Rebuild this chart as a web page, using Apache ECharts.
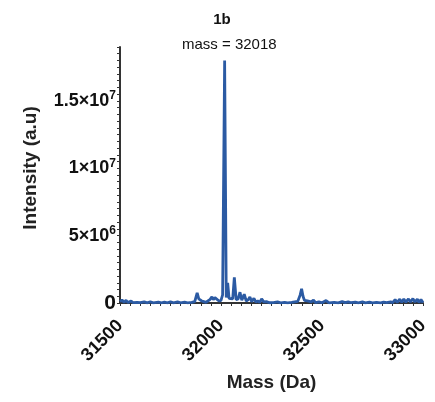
<!DOCTYPE html>
<html>
<head>
<meta charset="utf-8">
<script src="https://cdn.jsdelivr.net/npm/echarts@6/dist/echarts.min.js"></script>
<style>html,body{margin:0;padding:0;background:#fff}#c{width:435px;height:402px}</style>
</head>
<body>
<div id="c"></div>
<script>
const title = '1b';
const peakMass = 32018;
const xTickLabels = [31500, 32000, 32500, 33000];
const yTickLabels = [0, 5e6, 1e7, 1.5e7];
const masses = [31500,31510,31520,31530,31540,31555,31565,31585,31600,31620,31635,31650,31665,31690,31705,31720,31735,31750,31765,31785,31800,31820,31835,31855,31870,31882,31890,31897,31905,31915,31925,31935,31945,31955,31962,31970,31978,31990,32000,32008,32018,32026,32033,32040,32058,32066,32075,32085,32094,32103,32115,32125,32135,32143,32152,32163,32172,32182,32192,32201,32212,32225,32240,32260,32280,32295,32315,32330,32350,32365,32380,32392,32399,32406,32413,32420,32428,32437,32447,32458,32468,32485,32500,32520,32535,32560,32580,32600,32615,32630,32645,32665,32680,32700,32715,32735,32750,32770,32790,32805,32820,32840,32850,32862,32872,32885,32895,32905,32915,32928,32938,32950,32960,32972,32980,32990,33000];
const intensities = [1.0e5,2.2e5,0.5e5,2.0e5,0.3e5,1.5e5,0.2e5,0.5e5,0.2e5,0.8e5,0.1e5,0.9e5,0.1e5,0.7e5,0.1e5,0.6e5,0.1e5,0.9e5,0.1e5,0.8e5,0.1e5,0.6e5,0.1e5,0.4e5,1.0e5,7.6e5,3.0e5,2.0e5,1.5e5,1.0e5,0.5e5,1.5e5,2.5e5,4.5e5,2.5e5,4.0e5,3.0e5,1.5e5,2.0e5,6.0e5,1.8e7,4.0e5,1.5e6,3.5e5,3.0e5,1.9e6,2.5e5,3.0e5,8.0e5,2.0e5,6.5e5,1.5e5,2.5e5,4.5e5,1.0e5,3.5e5,0.8e5,1.5e5,0.5e5,3.0e5,0.8e5,1.0e5,0.2e5,0.3e5,0.8e5,0.1e5,0.5e5,0.1e5,0.4e5,0.8e5,1.2e5,6.0e5,1.05e6,5.0e5,2.0e5,3.0e5,1.5e5,2.5e5,0.8e5,2.2e5,0.3e5,0.8e5,0.2e5,1.8e5,0.1e5,0.5e5,0.1e5,1.0e5,0.3e5,0.8e5,0.2e5,0.7e5,0.1e5,0.8e5,0.1e5,0.6e5,0.1e5,0.5e5,0.1e5,0.6e5,0.2e5,0.8e5,0.3e5,2.5e5,0.5e5,2.8e5,0.6e5,3.0e5,0.6e5,3.0e5,0.7e5,3.2e5,0.8e5,2.8e5,0.5e5,2.5e5,0.3e5];

const data = masses.map((m, i) => [m, intensities[i]]);
const font = '"Liberation Sans", Arial, sans-serif';
function yLab(v) {
  if (yTickLabels.indexOf(v) < 0) return '';
  if (v === 0) return '{z|0}';
  const e = Math.floor(Math.log10(v) + 1e-9);
  let m = v / Math.pow(10, e);
  m = Math.round(m * 10) / 10;
  return '{b|' + m + '×10}{s|' + e + '}';
}
const chart = echarts.init(document.getElementById('c'), null, {renderer: 'canvas'});
chart.setOption({
  animation: false,
  backgroundColor: '#fff',
  title: {text: title, left: 217, top: 7, textAlign: 'center',
    textStyle: {fontFamily: font, fontSize: 15, fontWeight: 'bold', color: '#111'}},
  graphic: [{type: 'text', left: 182, top: 37,
    style: {text: 'mass = ' + peakMass, font: '15px ' + font, fill: '#111'}}],
  grid: {left: 120, right: 12, top: 47, bottom: 99},
  xAxis: {
    type: 'value', min: 31500, max: 33000, interval: 50,
    name: 'Mass (Da)', nameLocation: 'middle', nameGap: 70,
    nameTextStyle: {fontFamily: font, fontSize: 19, fontWeight: 'bold', color: '#222'},
    axisLine: {lineStyle: {color: '#333', width: 2}},
    axisTick: {length: 3, lineStyle: {color: '#333', width: 1}},
    splitLine: {show: false},
    axisLabel: {rotate: 45, margin: 20, fontFamily: font, fontSize: 18, fontWeight: 'bold', color: '#111',
      formatter: v => xTickLabels.indexOf(v) >= 0 ? String(v) : ''}
  },
  yAxis: {
    type: 'value', min: 0, max: 1.9e7, interval: 5e5,
    name: 'Intensity (a.u)', nameLocation: 'middle', nameGap: 80,
    nameTextStyle: {fontFamily: font, fontSize: 19, fontWeight: 'bold', color: '#222', padding: [0, 0, 0, 14]},
    axisLine: {show: true, lineStyle: {color: '#333', width: 2}},
    axisTick: {show: true, length: 3, lineStyle: {color: '#333', width: 1}},
    splitLine: {show: false},
    axisLabel: {margin: 4, formatter: yLab,
      rich: {
        b: {fontFamily: font, fontSize: 18, fontWeight: 'bold', color: '#111'},
        z: {fontFamily: font, fontSize: 21, fontWeight: 'bold', color: '#111'},
        s: {fontFamily: font, fontSize: 12, fontWeight: 'bold', color: '#111', verticalAlign: 'top', padding: [0,0,10,0]}
      }}
  },
  series: [{
    type: 'line', data: data, showSymbol: false, symbol: 'none',
    lineStyle: {color: '#2b5aa3', width: 2.8}, z: 1
  }]
});
</script>
</body>
</html>
